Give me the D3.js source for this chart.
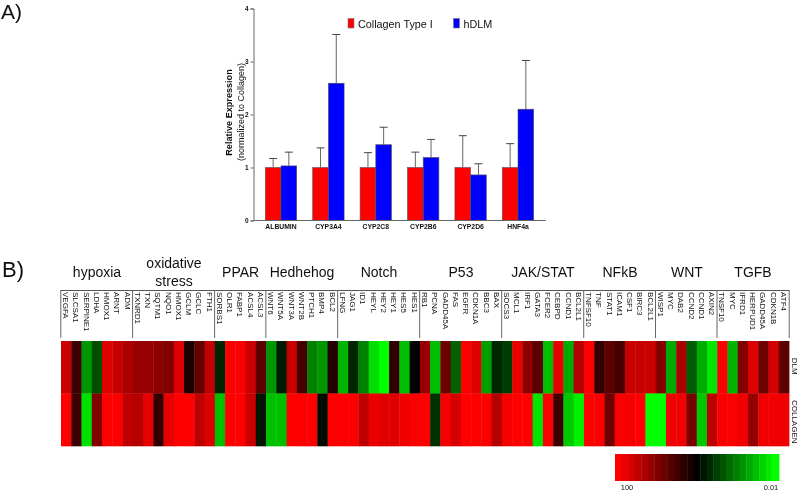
<!DOCTYPE html>
<html><head><meta charset="utf-8">
<script src="https://cdn.jsdelivr.net/npm/d3@7"></script>
<style>html,body{margin:0;padding:0;background:#fff}svg{display:block}text{font-family:"Liberation Sans",Arial,sans-serif;fill:#111}</style>
</head><body><div id="c"></div>
<script>
const categories=["ALBUMIN","CYP3A4","CYP2C8","CYP2B6","CYP2D6","HNF4a"];
const collagenMean=[1,1,1,1,1,1];
const collagenTop=[1.17,1.37,1.28,1.29,1.6,1.45];
const dlmMean=[1.03,2.59,1.43,1.19,0.86,2.1];
const dlmTop=[1.29,3.51,1.76,1.53,1.07,3.02];
const yTicks=[0,1,2,3,4];

const groupNames=[["hypoxia"],["oxidative","stress"],["PPAR"],["Hedhehog"],["Notch"],["P53"],["JAK/STAT"],["NFkB"],["WNT"],["TGFB"]];
const groupGenes=[
["VEGFA","SLCSA1","SERPINE1","LDHA","HMOX1","ARNT","ADM"],
["TXNRD1","TXN","SQTM1","NQO1","HMOX1","GCLM","GCLC","FTH1"],
["SORBS1","OLR1","FABP1","ACSL4","ACSL3"],
["WNT6","WNT5A","WNT3A","WNT2B","PTCH1","BMP4","BCL2"],
["LFNG","JAG1","ID1","HEYL","HEY2","HEY1","HES5","HES1"],
["RB1","PCNA","GADD45A","FAS","EGFR","CDKN1A","BBC3","BAX"],
["SOCS3","MCL1","IRF1","GATA3","FCER2","CEBPD","CCND1","BCL2L1"],
["TNFSF10","TNF","STAT1","ICAM1","CSF1","BIRC3","BCL2L1"],
["WISP1","MYC","DAB2","CCND2","CCND1","AXIN2"],
["TNSF10","MYC","IFRD1","HERPUD1","GADD45A","CDKN1B","ATF4"]];
const rowNames=["DLM","COLLAGEN"];
const dlmLog=[1.57,.47,-1.18,-.63,1.73,1.57,1.33,1.18,1.18,1.1,1.02,1.73,.24,.78,1.49,-.31,1.96,1.96,1.57,.71,-1.18,-.2,1.57,.55,-1.02,-1.18,.31,-1.41,-.31,-1.02,-1.73,-2,.39,-1.49,.04,1.18,-1.49,.86,-.78,1.96,1.73,-1.25,-.31,-.47,1.8,1.1,.71,-1.49,1.8,-1.33,1.41,1.96,.39,.71,.55,1.57,1.57,1.57,1.02,-1.33,1.33,-.71,-1.33,-1.8,1.96,-1.41,1.02,1.73,.86,1.65,.71];
const collagenLog=[2,.47,-1.76,1.02,2,1.96,1.49,1.41,1.8,.39,1.8,2,2,1.49,1.73,-1.49,2,2,1.57,-.16,-1.49,-1.49,2,2,2,-.12,2,1.96,1.96,1.49,1.84,1.76,1.76,1.88,1.96,2,-.39,1.92,1.69,2,1.96,1.96,1.41,1.92,2,2,-1.8,1.96,.47,-1.57,-1.88,2,1.96,.86,1.96,1.92,2,-2,-2,1.88,1.88,.94,-1.57,1.49,1.96,1.96,1.88,1.18,1.88,1.88,1.88];
const colorLabels=["100","0.01"];

const svg=d3.select("#c").append("svg").attr("width",800).attr("height",491);
const flt=svg.append("defs").append("filter").attr("id","soft").attr("x",0).attr("y",0).attr("width","100%").attr("height","100%");
flt.append("feGaussianBlur").attr("stdDeviation",0.4);
const root=svg.append("g").attr("filter","url(#soft)");
root.append("rect").attr("width",800).attr("height",491).attr("fill","#fff");
root.append("text").attr("x",1).attr("y",19).attr("font-size",21).text("A)");
root.append("text").attr("x",2).attr("y",277).attr("font-size",22).text("B)");

/* Panel A */
const y=d3.scaleLinear().domain([0,4]).range([220.5,8.5]);
const x0=d3.scaleBand().domain(categories).range([257.3,541.7]);
const x1=d3.scaleBand().domain(["c","d"]).range([8,39.4]);
const A=root.append("g");
const seriesA=[["c",collagenMean,collagenTop,"#ff0000"],["d",dlmMean,dlmTop,"#0000ff"]];
seriesA.forEach(([k,m,t,col])=>{
  const g=A.append("g");
  categories.forEach((c,i)=>{
    const cx=x0(c)+x1(k)+x1.bandwidth()/2;
    g.append("line").attr("x1",cx).attr("x2",cx).attr("y1",y(m[i])).attr("y2",y(t[i])).attr("stroke","#666").attr("stroke-width",1);
    g.append("line").attr("x1",cx-4).attr("x2",cx+4).attr("y1",y(t[i])).attr("y2",y(t[i])).attr("stroke","#444").attr("stroke-width",1);
    g.append("rect").attr("x",x0(c)+x1(k)).attr("width",x1.bandwidth()).attr("y",y(m[i])).attr("height",y(0)-y(m[i])).attr("fill",col).attr("stroke","#555").attr("stroke-width",.6);
  });
});
const yAxis=A.append("g").attr("transform","translate(253.5,0)").call(d3.axisLeft(y).tickValues(yTicks).tickSize(3).tickFormat(d3.format("d")));
yAxis.selectAll("text").attr("font-size",6.5).attr("font-weight","bold").attr("dx",1);
yAxis.selectAll("path,line").attr("stroke","#666");
const xAxis=A.append("g").attr("transform","translate(0,220.5)").call(d3.axisBottom(d3.scaleBand().domain(categories).range([257.3,541.7])).tickSize(0).tickPadding(4));
xAxis.select("path").attr("d","M253.5,0H545.7").attr("stroke","#666");
xAxis.selectAll("text").attr("font-size",6.8).attr("font-weight","bold");
A.append("text").attr("transform","translate(231.5,112.5) rotate(-90)").attr("text-anchor","middle").attr("font-size",9.1).attr("font-weight","bold").text("Relative Expression");
A.append("text").attr("transform","translate(243.5,112) rotate(-90)").attr("text-anchor","middle").attr("font-size",9).text("(normalized to Collagen)");
[["Collagen Type I",348,"#ff0000"],["hDLM",453.5,"#0000ff"]].forEach(([t,lx,col])=>{
  A.append("rect").attr("x",lx).attr("y",18.5).attr("width",6).attr("height",9.5).attr("fill",col).attr("stroke","#777").attr("stroke-width",.6);
  A.append("text").attr("x",lx+10).attr("y",28).attr("font-size",10.8).text(t);
});

/* Panel B */
const genes=groupGenes.flat();
const xc=d3.scaleBand().domain(d3.range(genes.length)).range([61,789]);
const yr=d3.scaleBand().domain(rowNames).range([341,446]);
const color=d3.scaleLinear().domain([2,0,-2]).range(["#ff0000","#000000","#00ff00"]);
const B=root.append("g");
[dlmLog,collagenLog].forEach((vals,r)=>{
  B.append("g").selectAll("rect").data(vals).join("rect")
   .attr("x",(d,i)=>xc(i)).attr("y",yr(rowNames[r])).attr("width",xc.bandwidth()+.4).attr("height",yr.bandwidth()+.3).attr("fill",d=>color(d));
});
B.selectAll(".gl").data(genes).join("text").attr("class","gl")
 .attr("transform",(d,i)=>`translate(${xc(i)+xc.bandwidth()/2-3},292) rotate(90)`)
 .attr("font-size",8).attr("fill","#222").text(d=>d);
B.append("line").attr("x1",60.5).attr("x2",789.5).attr("y1",290.5).attr("y2",290.5).attr("stroke","#555");
let idx=0;
const groupCenters=[97,174,240.6,302,379,461,543,620,687,753];
groupGenes.forEach((g,i)=>{
  B.append("line").attr("x1",xc(idx)-.2).attr("x2",xc(idx)-.2).attr("y1",290).attr("y2",338).attr("stroke","#666");
  const n=groupNames[i];
  n.forEach((t,j)=>{
    B.append("text").attr("x",groupCenters[i]).attr("y",n.length>1?(j?286:268):277).attr("text-anchor","middle").attr("font-size",14).text(t);
  });
  idx+=g.length;
});
B.append("line").attr("x1",789.2).attr("x2",789.2).attr("y1",290).attr("y2",338).attr("stroke","#666");
rowNames.forEach((t,i)=>{
  B.append("text").attr("transform",`translate(792,${yr(t)+yr.bandwidth()/2+(i?2:-1)}) rotate(90)`).attr("text-anchor","middle").attr("font-size",8).text(t);
});

/* Colour bar */
const steps=d3.range(25);
const cbX=d3.scaleBand().domain(steps).range([615,779]);
const cbV=d3.scaleLinear().domain([0,24]).range([2,-2]);
root.append("g").selectAll("rect").data(steps).join("rect")
 .attr("x",d=>cbX(d)).attr("y",454).attr("width",cbX.bandwidth()+.4).attr("height",27).attr("fill",d=>color(cbV(d)));
root.append("text").attr("x",627).attr("y",490).attr("text-anchor","middle").attr("font-size",7.5).text(colorLabels[0]);
root.append("text").attr("x",771).attr("y",490).attr("text-anchor","middle").attr("font-size",7.5).text(colorLabels[1]);
</script></body></html>
